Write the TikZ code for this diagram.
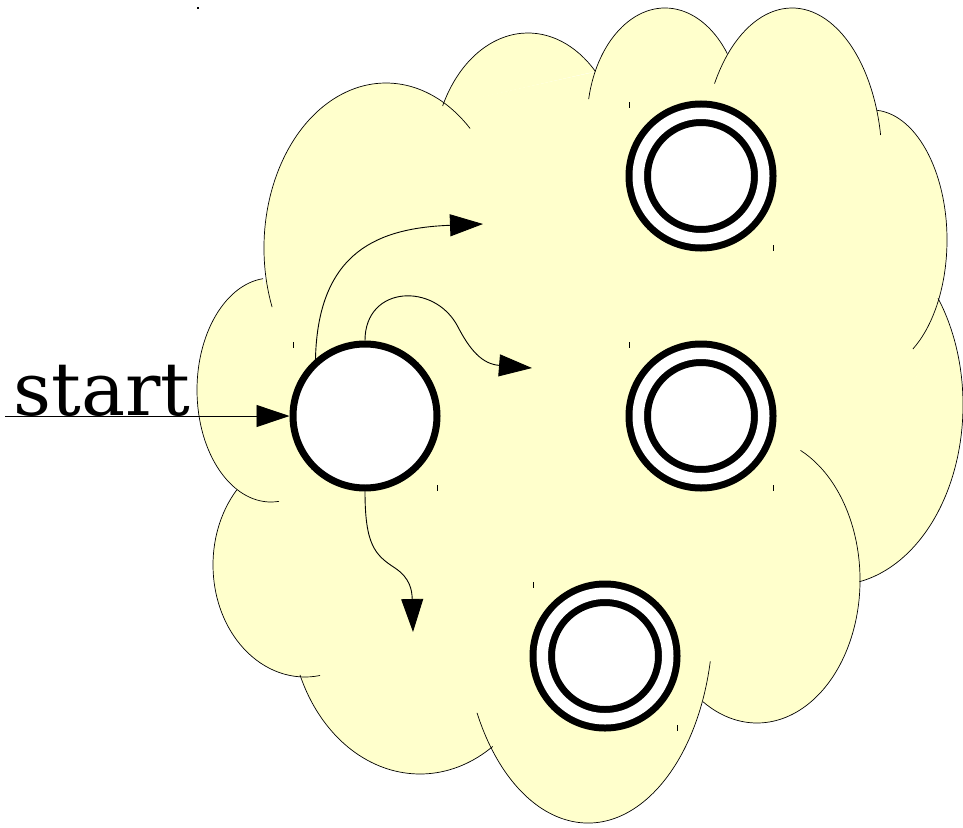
\documentclass[tikz,border=0pt]{standalone}
\usepackage{fontspec}
\newfontfamily\labelfont{DejaVu Serif}
\usepackage{tikz}
\usetikzlibrary{arrows.meta}
\definecolor{CloudYellow}{HTML}{FFFFCC}
\pgfdeclarelayer{background}
\pgfsetlayers{background,main}
% one lobe of the cloud (centre x, centre y, x radius, y radius, start, end):
% filled on the background layer, outlined on top
\newcommand{\cloudbump}[6]{%
  \begin{pgfonlayer}{background}
    \fill[cloudfill] (#1,#2) ++(#5:#3 and #4)
      arc[start angle=#5,end angle=#6,x radius=#3,y radius=#4] -- cycle;
  \end{pgfonlayer}
  \draw[cloudline] (#1,#2) ++(#5:#3 and #4)
    arc[start angle=#5,end angle=#6,x radius=#3,y radius=#4];}

\begin{document}
\begin{tikzpicture}[x=1pt,y=-1pt,
    cloudfill/.style={fill=CloudYellow},
    cloudline/.style={draw=black,line width=0.7pt},
    statenode/.style={circle,draw=black,line width=7pt,fill=white,
      inner sep=0pt,minimum size=144pt},
    acceptnode/.style={statenode,double=white,double distance=11.5pt,
      minimum size=125.5pt},
    arr/.style={-{Triangle[length=33pt,width=22pt]},line width=0.9pt},
    tickmark/.style={line width=0.8pt}
  ]
    \useasboundingbox (0,0) rectangle (963,827);

    % cloud
    \begin{pgfonlayer}{background}
      \fill[cloudfill] (236,489) -- (265,279) -- (444,105) -- (595,72) -- (727,54)
        -- (877,111) -- (938,299) -- (860,582) -- (703,701) -- (492,747)
        -- (300,676) -- cycle;
    \end{pgfonlayer}
    \cloudbump{271}{390}{74}{112}{83.8}{263.8}
    \cloudbump{386}{248}{122}{165}{159}{313.6}
    \cloudbump{528}{163}{95}{130}{206}{315.2}
    \cloudbump{665}{122.5}{78}{114.5}{191.8}{323}
    \cloudbump{792}{162}{90}{154}{210.6}{349.9}
    \cloudbump{872}{240}{75}{130}{273.8}{417}
    \cloudbump{835}{405}{128}{180}{323.6}{439}
    \cloudbump{757}{580}{103}{143}{295}{481.6}
    \cloudbump{588}{619}{125}{204}{12}{152.6}
    \cloudbump{420}{613}{130}{161}{56}{157.4}
    \cloudbump{305}{565}{92}{112}{222}{80.6}

    % states
    \node[statenode] (q0) at (365,416) {};
    \node[acceptnode] (q1) at (701,176) {};
    \node[acceptnode] (q2) at (701,416) {};
    \node[acceptnode] (q3) at (605,656) {};

    \node[font=\labelfont\fontsize{74}{80}\selectfont,anchor=base,inner sep=0pt] (lbl) at (102,415) {start};

    \coordinate (init) at (5,416);
    \coordinate (e1) at (483,224);
    \coordinate (e2) at (532,368);
    \coordinate (e3) at (413,632);

    \draw[arr] (init) -- (q0.west);
    \draw[arr] (q0.131) .. controls (318,250) and (380,228) .. (e1);
    \draw[arr] (q0.north) .. controls (365,285) and (435,282) .. (458,327)
      .. controls (470,350) and (482,364) .. (e2);
    \draw[arr] (q0.south) .. controls (365,545) and (375,555) .. (395,568)
      .. controls (410,578) and (412,590) .. (e3);

    % corner ticks
    \foreach \s in {q0,q1,q2,q3} {
      \draw[tickmark] (\s.center) ++(-72,-74) -- ++(0,6);
      \draw[tickmark] (\s.center) ++(72,69) -- ++(0,6);
    }
    \fill (197,7) rectangle (199,9);
  \end{tikzpicture}
\end{document}
